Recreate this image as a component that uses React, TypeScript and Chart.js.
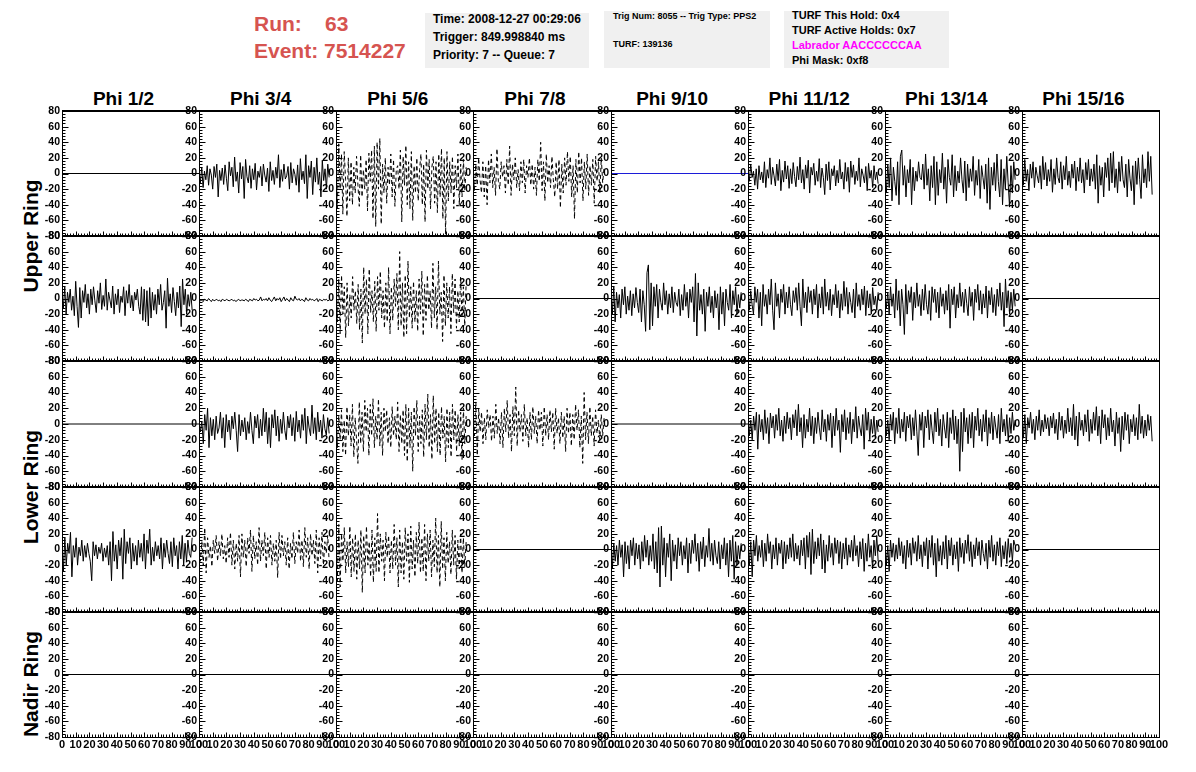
import React, { useEffect, useRef } from "react";
import { Chart, registerables } from "chart.js";

Chart.register(...registerables);

// ---------- labels ----------
const PHI_LABELS = ["Phi 1/2", "Phi 3/4", "Phi 5/6", "Phi 7/8", "Phi 9/10", "Phi 11/12", "Phi 13/14", "Phi 15/16"];
const RING_LABELS = ["Upper Ring", "Lower Ring", "Nadir Ring"];
const INFO_BOX_1 = ["Time: 2008-12-27 00:29:06", "Trigger: 849.998840 ms", "Priority: 7 -- Queue: 7"];
const INFO_BOX_2 = ["Trig Num: 8055 -- Trig Type: PPS2", "TURF: 139136"];
const INFO_BOX_3 = ["TURF This Hold: 0x4", "TURF Active Holds: 0x7", "Labrador AACCCCCCAA", "Phi Mask: 0xf8"];
const RUN_NUMBER = "63";
const EVENT_NUMBER = "7514227";

// ---------- axes ----------
const X_MIN = 0;
const X_MAX = 100;
const X_STEP = 10;
const Y_MIN = -80;
const Y_MAX = 80;
const Y_STEP = 20;
const WAVE_SPAN_NS = 95; // time of the last recorded sample

// ---------- waveforms (mV) ----------
const FLAT_LINE = [0, 0];

const U1_P34 = [5,-12,8,-18,3,-8,10,-15,6,-2,-20,9,-5,12,-30,4,-9,7,-14,11,-6,-22,15,-3,8,-17,21,-10,2,-25,14,-7,9,-32,18,-4,-12,10,-19,6,-8,13,-21,3,-5,9,-16,12,-2,-11,7,-23,15,-9,4,-14,8,-6,24,-18,5,-10,12,-7,-3,9,-20,14,-12,6,-1,-15,11,-24,19,-8,3,-13,24,-32,10,-5,16,-27,8,-11,20,-14,2,-30,17,-9,6,-20,12,-5];
const U1_P56 = [10,-45,38,-20,25,-52,28,-8,-55,20,-35,15,-40,8,-25,22,-15,-42,24,-30,5,-20,18,-48,26,-10,30,-58,35,-68,40,-20,45,-65,12,-25,20,-38,8,-15,25,-30,18,-42,5,10,-20,30,-62,22,-15,36,-40,15,-45,28,-60,10,-25,20,-35,5,25,-40,12,-62,30,-20,18,-45,8,22,-38,15,-50,25,-30,32,-58,20,-78,28,-35,15,-25,22,-45,10,-18,25,-40,12,-30,18,-22,8];
const U1_P78 = [5,-22,12,-15,20,-8,-25,15,-30,10,-40,18,-12,25,-18,8,-28,32,-10,-20,15,-5,10,-25,18,-15,35,-28,12,-8,20,-18,5,-22,15,-12,18,-25,10,-5,20,-15,12,-20,8,-28,18,-10,40,-22,15,-35,25,-12,10,-18,22,-8,-30,15,-20,18,-44,12,-25,20,-15,28,-10,22,-30,10,-58,18,-25,28,-12,20,-35,15,-20,25,-28,10,-15,18,-38,22,-10,15,-25,20,-12,8];
const U1_P1112 = [8,-10,12,-5,3,-15,6,-20,10,-8,2,-12,15,-18,5,-6,20,-14,8,-3,-16,12,-9,18,-22,4,-11,16,-7,10,-19,6,-13,14,-4,-17,9,-8,21,-12,5,-20,11,-6,17,-25,8,-2,13,-15,3,-10,19,-18,7,-5,-27,12,-9,15,-21,6,-3,10,-16,4,-12,18,-7,2,-20,14,-10,8,-24,16,-5,11,-14,3,-9,20,-17,6,-2,-12,9,-22,13,-6,4,-18,10,-8,2,-13];
const U1_P1314 = [5,-25,12,-18,20,-35,8,-10,-28,15,-40,22,30,-15,10,-30,5,-12,18,-40,8,-22,3,-10,15,-5,-8,12,-20,25,-15,6,-35,10,-18,22,-40,15,-28,5,-12,26,-20,8,-38,18,-5,-15,24,-30,10,-22,3,-12,20,-8,-25,16,-35,12,-18,6,-10,22,-28,4,-15,18,-32,10,-5,-20,12,-38,20,-46,8,-15,14,-22,25,-10,-30,18,-40,6,-20,22,-12,-43,10,-25,15,-8];
const U1_P1516 = [20,-15,18,-10,5,-22,12,-6,15,-18,8,-3,-12,10,-20,22,-8,14,-16,5,-10,18,-24,6,-14,20,-5,-12,15,-20,10,-8,22,-15,3,-18,12,-6,16,-22,8,-10,20,-12,5,-25,14,-8,18,-16,6,-10,12,-20,24,-38,10,-15,8,-30,14,-5,20,-22,26,-12,28,-18,6,-25,15,-10,22,-8,-18,12,-30,18,-6,-22,10,-40,16,-14,20,-8,-32,24,-12,6,-18,28,-10,22,-27];

const U2_P12 = [5,-12,15,-20,8,-5,12,-15,3,-22,22,-10,-37,14,-25,10,-5,18,-12,6,-20,12,-8,15,-3,-18,10,-6,20,-14,4,-10,25,-15,8,-2,-12,16,-20,6,-8,12,-18,3,-5,15,-22,10,-6,18,-12,4,-16,8,-2,12,-10,-20,15,-28,12,-30,10,-35,14,-25,8,-15,5,-20,12,-8,18,-15,-5,10,-38,26,-10,6,-18,14,-4,-22,8,-12,16,-36,25,-8,12,-20,5,-10,8,-15];
const U2_P34 = [-1,-3,-2,-4,-1,-2,-3,0,-2,-4,-1,-3,-2,-1,-3,-2,-4,-1,-2,-3,-1,-2,-3,-2,-1,-3,-2,-4,-2,-1,-3,-2,-2,-3,-1,-2,-4,-1,-2,-3,0,-2,-1,-3,-2,2,-3,-1,-2,0,-3,1,-2,-4,-1,2,-3,0,-2,1,-4,-1,2,-3,0,-2,-4,1,-2,-3,3,-1,-2,0,-3,-1,-2,-4,1,-2,-3,0,-2,-1,-3,-2,0,-4,-1,-2,-3,-1,-2,-1,-3,-2];
const U2_P56 = [10,-30,25,-45,30,-20,15,-50,20,-35,5,-25,28,-15,10,-32,18,-40,12,-57,40,-20,25,-45,38,-18,10,-30,22,-42,28,-15,35,-25,10,-38,20,-30,40,-45,15,-28,25,-10,32,-40,60,-35,20,-50,30,-45,48,-25,15,-38,22,-30,10,-42,25,-20,35,-48,18,-28,30,-15,10,-38,45,-25,15,-40,48,-20,8,-55,30,-35,20,-25,15,-45,32,-18,25,-38,10,-30,28,-22,15,-35,20];
const U2_P910 = [10,-20,15,-30,8,-12,5,-25,12,-8,15,-20,3,-15,10,-22,6,-12,14,-5,-18,12,-30,10,-8,-42,33,43,-40,20,-35,15,-10,18,-25,12,-5,-15,20,-8,10,-20,6,-12,15,-18,8,-5,-10,12,-22,5,-15,18,-10,8,-25,12,-5,15,-30,32,-48,20,-15,5,-20,12,-42,8,-10,15,-18,3,-25,10,-12,6,-40,15,-20,8,-35,12,-5,-15,18,-25,10,-8,15,-20,5,-12,8];
const U2_P1112 = [5,-15,10,-8,-20,15,-5,12,-25,8,-35,18,-10,5,-20,12,-8,25,-15,-40,20,-10,6,-25,12,-5,18,-20,8,-12,15,-8,-22,10,-5,14,-15,20,-10,-35,25,-12,8,-18,15,-5,10,-20,12,-8,18,-25,6,-12,15,-20,25,-10,8,-15,12,-22,5,-8,18,-12,10,-25,6,-15,22,-10,14,-20,8,-5,-18,12,-25,20,-10,5,-15,12,-8,16,-22,10,-12,6,-20,14,-8,3,-15,8];
const U2_P1314 = [5,-12,8,-20,15,-10,6,-25,25,-15,10,-35,12,-8,-46,18,-20,10,-5,15,-28,8,-12,20,-10,5,-22,12,-15,18,-8,-20,10,-28,15,-5,12,-18,8,-25,14,-10,6,-20,10,-15,18,-38,12,-8,15,-25,5,-12,20,-10,8,-18,12,-6,-22,15,-10,8,-28,12,-5,18,-15,10,-20,6,-12,16,-25,10,-8,14,-18,5,-22,12,-10,20,-15,8,-36,25,-12,10,-20,8,-15,12,-10];

const L1_P34 = [5,-10,3,-25,12,-8,20,-30,8,-15,6,-20,10,-12,-5,15,-18,8,-30,12,-10,5,-20,10,-6,15,-8,-35,12,-15,5,-10,8,-20,3,-12,15,-8,-25,10,-5,12,-18,6,-15,20,-10,15,-25,8,-30,12,-5,18,-15,10,-22,6,-12,15,-8,-20,10,-5,12,-15,8,-22,16,-10,5,-18,12,-8,20,-25,10,-5,-15,24,-12,8,-20,15,-10,5,-18,12,-6,-14,8,-12];
const L1_P56 = [15,-30,10,-20,18,-35,5,-40,22,-15,12,-28,25,-42,8,-20,-50,28,-25,15,-35,30,-10,20,-40,25,-15,32,-30,10,-20,32,-28,15,-40,20,-10,18,-25,8,-30,22,-15,10,-20,28,-35,12,-25,18,-40,25,-48,20,-30,15,-60,22,-15,30,-35,10,-25,18,-42,25,-20,38,-30,12,-45,36,-25,20,-35,15,-40,22,-18,10,-48,20,-30,15,-42,25,-20,18,-35,12,-28,15,-45,20,-25,10];
const L1_P78 = [5,-15,28,-40,20,-10,15,-25,8,-20,18,-5,12,-22,10,-18,25,-12,8,-25,15,-30,20,-10,30,-18,12,-35,22,-15,47,-28,18,-10,12,-22,25,-15,8,-30,15,-20,22,-12,10,-25,18,-8,15,-28,22,-15,12,-20,18,-10,15,-32,20,-12,8,-25,15,-18,10,-35,20,-12,15,-28,12,-20,25,-8,18,-30,10,-50,40,-20,15,-25,22,-15,10,-28,18,-12,5,-20,12,-15,8];
const L1_P1112 = [20,-15,5,-20,10,-8,15,-32,12,-10,6,-20,18,-12,8,-25,14,-5,10,-18,12,-8,20,-15,5,-22,10,-12,15,-6,8,-20,12,-5,18,-15,25,-10,8,-30,12,-18,6,-10,20,-15,10,-25,8,-12,15,-5,-20,18,-10,6,-22,12,-8,14,-30,10,-15,20,-8,5,-36,12,-10,18,-20,8,-12,15,-25,6,-10,22,-18,10,-5,-15,12,-32,20,-8,15,-20,6,-12,10,-18,5,-10];
const L1_P1314 = [10,-15,5,-20,12,-8,15,-25,8,-12,20,-18,6,-10,15,-22,10,-5,12,-20,8,-15,18,-10,-40,12,-8,15,-30,10,-5,18,-20,12,-8,-25,15,-10,20,-15,6,-28,12,-5,-18,15,-30,8,-12,18,-20,10,-25,6,-60,15,-35,20,-10,8,-25,12,-18,15,-30,10,-8,20,-15,6,-22,12,-10,18,-28,8,-12,15,-20,10,-5,-18,12,-25,20,-10,6,-15,12,-22,8,-12,15,-8,5];
const L1_P1516 = [20,-18,12,-25,8,-5,15,-12,6,-20,10,-8,18,-15,5,-10,12,-6,8,-15,10,-5,14,-12,6,-20,15,-8,10,-18,5,-12,20,-10,8,-15,25,-20,10,-28,15,-8,5,-15,12,-10,18,-22,6,-12,15,-8,22,-15,10,-25,18,-5,12,-20,8,-15,20,-10,5,-28,15,-12,8,-35,10,-20,15,-8,12,-25,6,-10,12,-15,8,-20,25,-12,10,-18,5,-15,12,-8,10,-22];

const L2_P12 = [10,-28,15,-20,8,-5,22,-35,5,-10,15,-20,3,-8,12,-15,5,-10,8,-5,-15,-40,10,-8,6,-12,3,-5,8,-15,2,-10,5,-20,10,-40,23,-15,6,-25,12,-8,15,-38,26,-18,10,-5,15,-25,8,-15,5,-20,12,-10,8,-15,20,-25,12,-5,26,-20,3,-15,10,-8,5,-12,15,-25,8,-10,12,-5,-18,10,-22,15,-8,5,-25,10,-12,18,-20,8,-15,12,-5,-10,15];
const L2_P34 = [5,-15,10,-20,28,-30,15,-10,5,-22,12,-5,18,-15,10,-8,20,-12,5,-18,15,-10,22,-20,12,-25,8,-15,18,-35,20,-10,12,-22,15,-5,25,-28,18,-12,10,-20,28,-15,12,-8,22,-25,15,-10,18,-20,8,-15,12,-36,22,-12,18,-8,10,-20,15,-25,8,-12,22,-18,10,-5,25,-15,12,-22,28,-10,15,-25,20,-8,12,-18,25,-30,15,-12,22,-20,10,-5,18,-15];
const L2_P56 = [25,-40,32,-48,20,-15,28,-30,10,-22,30,-35,15,-28,20,-38,12,-25,25,-55,18,-30,30,-20,10,-35,25,-42,15,-28,46,-30,20,-15,12,-40,22,-10,18,-30,12,-25,32,-20,15,-48,25,-30,10,-38,28,-15,20,-42,30,-25,12,-35,22,-18,35,-30,15,-28,32,-40,20,-15,25,-35,12,-22,40,-30,18,-48,36,-25,15,-40,22,-18,10,-32,25,-20,18,-38,12,-25,20,-30,15,-22,10];
const L2_P910 = [15,-25,8,-15,5,-20,12,-10,6,-35,10,-18,5,-25,12,-8,15,-20,8,-12,6,-25,10,-15,18,-10,12,-20,5,-15,20,-25,10,-30,28,-48,30,-20,15,-35,8,-10,20,-40,12,-15,6,-25,15,-8,10,-20,5,-12,15,-30,8,-18,12,-5,20,-15,8,-28,10,-12,16,-22,5,-10,27,-15,8,-20,12,-8,-18,10,-25,6,-12,15,-20,8,-35,12,-15,18,-38,10,-20,5,-12,8];
const L2_P1112 = [15,-20,10,-35,12,-8,18,-15,5,-10,12,-22,8,-15,20,-5,10,-25,6,-12,15,-20,8,-5,12,-25,10,-18,6,-12,15,-10,20,-15,8,-12,5,-20,12,-8,15,-25,18,-10,22,-32,26,-18,10,-12,15,-8,20,-25,12,-30,6,-15,18,-10,8,-20,15,-5,12,-18,10,-25,8,-12,15,-20,6,-10,12,-15,18,-8,5,-22,10,-12,14,-28,8,-15,20,-10,5,-25,12,-8,18,-15];
const L2_P1314 = [10,-20,5,-28,12,-10,8,-15,6,-12,15,-8,10,-18,5,-25,12,-10,8,-20,15,-5,10,-15,18,-12,6,-22,10,-8,15,-25,12,-10,18,-20,8,-35,14,-15,5,-20,10,-12,18,-25,12,-8,15,-20,6,-12,10,-28,15,-10,8,-18,12,-5,19,-15,10,-22,6,-12,15,-8,10,-20,12,-5,-15,8,-25,12,-10,18,-15,6,-20,10,-8,15,-22,5,-12,10,-18,14,-10,8,-15,12,5];

// ---------- styling ----------
const FONT = "'Liberation Sans', Arial, Helvetica, sans-serif";
const BLACK = "#000000";
const BLUE = "#1c1cd8";
const RED = "rgb(214,84,80)";
const MAGENTA = "#ff00ff";
const BOX_BG = "#f0f0f0";

type Cell = { wave: number[]; dashed?: boolean; color?: string; full?: boolean };
const F: Cell = { wave: FLAT_LINE, full: true };

const CELLS: Cell[][] = [
  [F, { wave: U1_P34 }, { wave: U1_P56, dashed: true }, { wave: U1_P78, dashed: true }, { wave: FLAT_LINE, full: true, color: BLUE }, { wave: U1_P1112 }, { wave: U1_P1314 }, { wave: U1_P1516 }],
  [{ wave: U2_P12 }, { wave: U2_P34 }, { wave: U2_P56, dashed: true }, F, { wave: U2_P910 }, { wave: U2_P1112 }, { wave: U2_P1314 }, F],
  [F, { wave: L1_P34 }, { wave: L1_P56, dashed: true }, { wave: L1_P78, dashed: true }, F, { wave: L1_P1112 }, { wave: L1_P1314 }, { wave: L1_P1516 }],
  [{ wave: L2_P12 }, { wave: L2_P34, dashed: true }, { wave: L2_P56, dashed: true }, F, { wave: L2_P910 }, { wave: L2_P1112 }, { wave: L2_P1314 }, F],
  [F, F, F, F, F, F, F, F],
];

// ---------- layout ----------
const GRID_LEFT = 62;
const GRID_RIGHT = 1159;
const GRID_TOP = 111;
const GRID_BOTTOM = 737;
const NCOL = 8;
const NROW = 5;
const COL_W = (GRID_RIGHT - GRID_LEFT) / NCOL;
const ROW_H = (GRID_BOTTOM - GRID_TOP) / NROW;
const PAD_L = 34;
const PAD_R = 14;
const PAD_T = 10;
const PAD_B = 16;

const yTickFont = { family: FONT, size: 10.5, weight: "bold" as const };
const xTickFont = { family: FONT, size: 11, weight: "bold" as const };

function makeFramePlugin(drawRight: boolean) {
  return {
    id: "rootFrame",
    afterDraw(chart: any) {
      const { ctx, chartArea: a, scales } = chart;
      const xs = scales.x;
      const ys = scales.y;
      const L = Math.round(a.left) + 0.5;
      const R = Math.round(a.right) + 0.5;
      const T = Math.round(a.top);
      const B = Math.round(a.bottom) + 0.5;
      ctx.save();
      ctx.strokeStyle = BLACK;
      ctx.lineWidth = 1;
      ctx.beginPath();
      ctx.moveTo(L, T);
      ctx.lineTo(L, B);
      ctx.moveTo(L - 0.5, B);
      ctx.lineTo(R + 0.5, B);
      if (drawRight) {
        ctx.moveTo(R, T);
        ctx.lineTo(R, B);
      }
      for (let v = Y_MIN; v <= Y_MAX; v += 4) {
        const py = Math.round(ys.getPixelForValue(v)) + 0.5;
        const len = v % Y_STEP === 0 ? 6 : 3;
        ctx.moveTo(L, py);
        ctx.lineTo(L + len, py);
      }
      for (let v = X_MIN; v <= X_MAX; v += 2) {
        const px = Math.round(xs.getPixelForValue(v)) + 0.5;
        const len = v % X_STEP === 0 ? 5 : 3;
        ctx.moveTo(px, B);
        ctx.lineTo(px, B - len);
      }
      ctx.stroke();
      ctx.lineWidth = 2;
      ctx.beginPath();
      ctx.moveTo(L - 0.5, T);
      ctx.lineTo(R + 0.5, T);
      ctx.stroke();
      ctx.restore();
    },
  };
}

function Panel({ row, col }: { row: number; col: number }) {
  const ref = useRef<HTMLCanvasElement>(null);
  const left0 = Math.round(GRID_LEFT + col * COL_W);
  const right0 = Math.round(GRID_LEFT + (col + 1) * COL_W);
  const top0 = Math.round(GRID_TOP + row * ROW_H);
  const bottom0 = Math.round(GRID_TOP + (row + 1) * ROW_H);
  const w = right0 - left0 + PAD_L + PAD_R;
  const h = bottom0 - top0 + PAD_T + PAD_B;

  useEffect(() => {
    const cell = CELLS[row][col];
    const isBottom = row === NROW - 1;
    const span = cell.full ? X_MAX : WAVE_SPAN_NS;
    const n = cell.wave.length;
    const data = cell.wave.map((y, i) => ({ x: (i * span) / (n - 1), y }));
    const chart = new Chart(ref.current as HTMLCanvasElement, {
      type: "line",
      data: {
        datasets: [
          {
            data,
            borderColor: cell.color ?? BLACK,
            borderWidth: 1,
            borderDash: cell.dashed ? [4, 3] : [],
            pointRadius: 0,
            tension: 0,
            fill: false,
          },
        ],
      },
      options: {
        animation: false,
        responsive: false,
        maintainAspectRatio: false,
        events: [],
        layout: { padding: { top: PAD_T, right: PAD_R, left: 0, bottom: 0 } },
        plugins: { legend: { display: false }, tooltip: { enabled: false }, title: { display: false } },
        scales: {
          x: {
            type: "linear",
            min: X_MIN,
            max: X_MAX,
            grid: { display: false, drawTicks: false },
            border: { display: false },
            ticks: {
              display: isBottom,
              stepSize: X_STEP,
              autoSkip: false,
              maxRotation: 0,
              minRotation: 0,
              padding: 1,
              font: xTickFont,
              color: BLACK,
            },
            afterFit: (s: any) => {
              s.height = PAD_B;
            },
          },
          y: {
            type: "linear",
            min: Y_MIN,
            max: Y_MAX,
            grid: { display: false, drawTicks: false },
            border: { display: false },
            ticks: { stepSize: Y_STEP, autoSkip: false, padding: 2, font: yTickFont, color: BLACK },
            afterFit: (s: any) => {
              s.width = PAD_L;
            },
          },
        },
      } as any,
      plugins: [makeFramePlugin(col === NCOL - 1)],
    });
    return () => chart.destroy();
  }, [row, col]);

  return (
    <canvas
      ref={ref}
      width={w}
      height={h}
      style={{ position: "absolute", left: left0 - PAD_L, top: top0 - PAD_T, width: w, height: h }}
    />
  );
}

function Txt(props: { x: number; y: number; size: number; color?: string; center?: boolean; children: React.ReactNode }) {
  return (
    <div
      style={{
        position: "absolute",
        left: props.x,
        top: props.y,
        transform: props.center ? "translate(-50%,-50%)" : "translateY(-50%)",
        fontFamily: FONT,
        fontWeight: 700,
        fontSize: props.size,
        color: props.color ?? BLACK,
        whiteSpace: "pre",
        lineHeight: 1,
      }}
    >
      {props.children}
    </div>
  );
}

export default function App() {
  const panels = [];
  for (let r = 0; r < NROW; r++) for (let c = 0; c < NCOL; c++) panels.push(<Panel key={`${r}-${c}`} row={r} col={c} />);
  const ringCenters = [GRID_TOP + ROW_H, GRID_TOP + 3 * ROW_H, GRID_TOP + 4.58 * ROW_H];
  return (
    <div style={{ position: "absolute", left: 0, top: 0, width: 1196, height: 772, background: "#ffffff", overflow: "hidden" }}>
      <Txt x={254} y={23} size={21} color={RED}>Run:</Txt>
      <Txt x={325} y={23} size={21} color={RED}>{RUN_NUMBER}</Txt>
      <Txt x={254} y={50} size={21} color={RED}>{`Event: ${EVENT_NUMBER}`}</Txt>

      <div style={{ position: "absolute", left: 425, top: 13, width: 164, height: 55, background: BOX_BG }} />
      <div style={{ position: "absolute", left: 604, top: 11, width: 166, height: 57, background: BOX_BG }} />
      <div style={{ position: "absolute", left: 784, top: 11, width: 165, height: 57, background: BOX_BG }} />

      <Txt x={433} y={19} size={12}>{INFO_BOX_1[0]}</Txt>
      <Txt x={433} y={37} size={12}>{INFO_BOX_1[1]}</Txt>
      <Txt x={433} y={55} size={12}>{INFO_BOX_1[2]}</Txt>

      <Txt x={613} y={16} size={9}>{INFO_BOX_2[0]}</Txt>
      <Txt x={613} y={44} size={9}>{INFO_BOX_2[1]}</Txt>

      <Txt x={792} y={15} size={11}>{INFO_BOX_3[0]}</Txt>
      <Txt x={792} y={30} size={11}>{INFO_BOX_3[1]}</Txt>
      <Txt x={792} y={45} size={11} color={MAGENTA}>{INFO_BOX_3[2]}</Txt>
      <Txt x={792} y={60} size={11}>{INFO_BOX_3[3]}</Txt>

      {PHI_LABELS.map((p, i) => (
        <Txt key={p} x={GRID_LEFT + (i + 0.5) * COL_W - 7} y={98} size={19} center>
          {p}
        </Txt>
      ))}

      {RING_LABELS.map((rl, i) => (
        <div
          key={rl}
          style={{
            position: "absolute",
            left: 30,
            top: ringCenters[i],
            transform: "translate(-50%,-50%) rotate(-90deg)",
            fontFamily: FONT,
            fontWeight: 700,
            fontSize: 21,
            whiteSpace: "pre",
            lineHeight: 1,
          }}
        >
          {rl}
        </div>
      ))}

      {panels}
    </div>
  );
}
